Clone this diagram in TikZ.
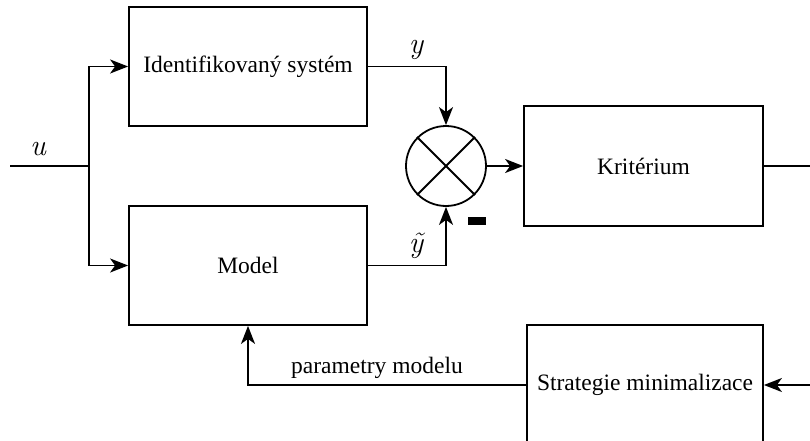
\documentclass[tikz,border=0pt]{standalone}
\usepackage{fontspec}
\setmainfont{Liberation Serif}
\newfontfamily\lmrfont{Latin Modern Roman}
\usetikzlibrary{arrows.meta,calc}
\begin{document}
\begin{tikzpicture}[x=1pt,y=-1pt,
  every node/.style={font=\fontsize{23.5}{28}\selectfont},
  blk/.style={draw, line width=1.8pt, rectangle, inner sep=0pt},
  wire/.style={line width=1.8pt},
  arr/.style={line width=1.8pt, -{Stealth[length=18pt,width=14pt,inset=5pt]}},
  lbl/.style={inner sep=0pt},
  mlbl/.style={inner sep=0pt, font=\fontsize{30}{34}\lmrfont\itshape}]
\useasboundingbox (0,0) rectangle (810,441);
\node[blk, minimum width=238pt, minimum height=119pt] (ident) at (248,66.5) {Identifikovaný systém};
\node[blk, minimum width=238pt, minimum height=119pt] (model) at (248,265.5) {Model};
\node[draw, line width=1.8pt, circle, minimum size=80pt, inner sep=0pt] (sum) at (446,166) {};
\draw[wire] (sum.45) -- (sum.225) (sum.135) -- (sum.315);
\node[blk, minimum width=239pt, minimum height=120pt] (krit) at (643.5,166) {Kritérium};
\node[blk, minimum width=236pt, minimum height=120pt] (strat) at (645,385) {Strategie minimalizace};
\node[fill=black, minimum width=18pt, minimum height=8pt, inner sep=0pt] (minus) at (477,221) {};
\coordinate (in) at (10,166);
\coordinate (split) at (89,166);
\coordinate (out) at (812,166);
\coordinate (sin) at (812,385);
\draw[wire] (in) -- (split);
\draw[arr] (split) |- (ident.west);
\draw[arr] (split) |- (model.west);
\draw[arr] (ident.east) -| (sum.north);
\draw[arr] (model.east) -| (sum.south);
\draw[arr] (sum.east) -- (krit.west);
\draw[wire] (krit.east) -- (out);
\draw[arr] (sin) -- (strat.east);
\draw[arr] (strat.west) -| (model.south);
\node[mlbl, anchor=base] (lu) at (38,155) {u};
\node[mlbl, anchor=base] (ly) at (416,54) {y};
\node[mlbl, anchor=base] (lyt) at (416,252) {ỹ};
\node[lbl] (lpar) at (377,368) {parametry modelu};
\end{tikzpicture}
\end{document}
